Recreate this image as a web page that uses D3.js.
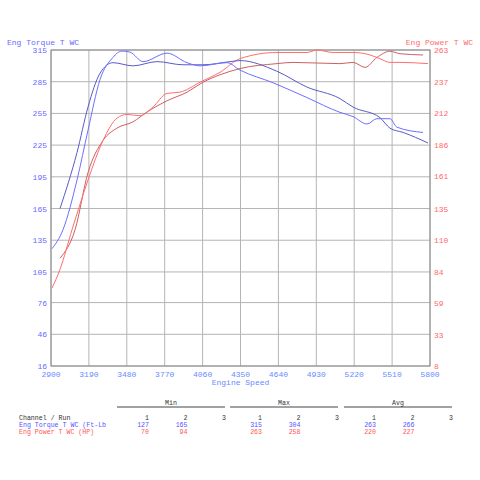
<!DOCTYPE html>
<html>
<head>
<meta charset="utf-8">
<script src="https://cdn.jsdelivr.net/npm/d3@7"></script>
<style>
  body { margin: 0; background: #fff; }
  text { font-family: "Liberation Mono", "DejaVu Sans Mono", monospace; font-size: 8px; }
  .tbl text { font-size: 6.6px; }
</style>
</head>
<body>
<svg id="chart" width="480" height="480"></svg>
<script>
// rpm / value pairs
const torqueRun1 = [[2908,127],[2992,145],[3099,192],[3183,239],[3275,287],[3374,308],[3443,314],[3505,313],[3604,304],[3788,312],[3941,303],[4040,300],[4247,303],[4346,296],[4599,284],[4858,270],[5111,256],[5211,252],[5318,245],[5394,250],[5494,250],[5547,242],[5746,237]];
const torqueRun2 = [[2969,165],[3099,218],[3183,261],[3275,293],[3374,303],[3527,300],[3711,304],[3910,301],[4063,301],[4270,304],[4346,305],[4627,295],[4857,280],[5111,269],[5211,261],[5417,251],[5494,241],[5594,237],[5785,227]];
const powerRun1 = [[2908,71],[2969,86],[3061,118],[3183,158],[3298,190],[3405,208],[3481,211],[3581,210],[3680,217],[3788,228],[3887,229],[4040,237],[4193,245],[4346,256],[4629,261],[4859,261],[4935,263],[5058,261],[5211,261],[5341,259],[5417,256],[5494,253],[5571,253],[5785,252]];
const powerRun2 = [[2969,95],[3084,118],[3183,164],[3298,190],[3405,200],[3527,205],[3635,213],[3788,222],[3941,229],[4063,237],[4193,243],[4346,248],[4629,252],[4752,253],[5111,252],[5211,253],[5303,249],[5394,257],[5494,262],[5571,260],[5746,259]];

const xTicks = [2900,3190,3480,3770,4060,4350,4640,4930,5220,5510,5800];
const torqueTicks = [16,46,76,105,135,165,195,225,255,285,315];
const powerTicks = [8,33,59,84,110,135,161,186,212,237,263];

const statCols = ["Min", "Max", "Avg"];
const runs = ["1", "2", "3"];
const torqueStats = [[127,165,""],[315,304,""],[263,266,""]];
const powerStats = [[70,94,""],[263,258,""],[220,227,""]];

const svg = d3.select("#chart");
const L = 51, R = 430, T = 50, B = 366;

const x = d3.scaleLinear().domain([2900, 5800]).range([L, R]);
const yT = d3.scaleLinear().domain([16, 315]).range([B, T]);
const yP = d3.scaleLinear().domain([8, 263]).range([B, T]);

// grid
svg.append("g").selectAll("line").data(xTicks).join("line")
  .attr("x1", d => x(d)).attr("x2", d => x(d)).attr("y1", T).attr("y2", B)
  .attr("stroke", "#b4b4b4").attr("stroke-width", 1);
svg.append("g").selectAll("line").data(torqueTicks).join("line")
  .attr("x1", L).attr("x2", R).attr("y1", d => yT(d)).attr("y2", d => yT(d))
  .attr("stroke", "#b4b4b4").attr("stroke-width", 1);
svg.append("rect").attr("x", L).attr("y", T).attr("width", R - L).attr("height", B - T)
  .attr("fill", "none").attr("stroke", "#8a8a8a");

// axes labels
svg.append("g").selectAll("text").data(torqueTicks).join("text")
  .attr("x", L - 4).attr("y", d => yT(d) + 3).attr("text-anchor", "end")
  .attr("fill", "#6a6aff").text(d => d);
svg.append("g").selectAll("text").data(powerTicks).join("text")
  .attr("x", R + 4).attr("y", d => yP(d) + 3)
  .attr("fill", "#ff6a6a").text(d => d);
svg.append("g").selectAll("text").data(xTicks).join("text")
  .attr("x", d => x(d)).attr("y", B + 11).attr("text-anchor", "middle")
  .attr("fill", "#6a8aff").text(d => d);
svg.append("text").attr("x", (L + R) / 2).attr("y", B + 19).attr("text-anchor", "middle")
  .attr("fill", "#6a8aff").text("Engine Speed");
svg.append("text").attr("x", 7).attr("y", 45).attr("fill", "#6a6aff").text("Eng Torque T WC");
svg.append("text").attr("x", 473).attr("y", 45).attr("text-anchor", "end").attr("fill", "#ff6a6a").text("Eng Power T WC");

// curves
const lineT = d3.line().x(d => x(d[0])).y(d => yT(d[1])).curve(d3.curveMonotoneX);
const lineP = d3.line().x(d => x(d[0])).y(d => yP(d[1])).curve(d3.curveMonotoneX);
[[powerRun2, lineP, "#cc6060"], [powerRun1, lineP, "#ff6e6e"],
 [torqueRun2, lineT, "#5a5ac8"], [torqueRun1, lineT, "#6e6eff"]].forEach(([d, fn, c]) => {
  svg.append("path").attr("d", fn(d)).attr("fill", "none").attr("stroke", c).attr("stroke-width", 1);
});

// stats table
const tbl = svg.append("g").attr("class", "tbl");
const groupX = [117, 230, 344], groupW = 108, colStep = 38.5;
statCols.forEach((name, i) => {
  tbl.append("line").attr("x1", groupX[i]).attr("x2", groupX[i] + groupW)
    .attr("y1", 407).attr("y2", 407).attr("stroke", "#444");
  tbl.append("text").attr("x", groupX[i] + groupW / 2).attr("y", 405)
    .attr("text-anchor", "middle").attr("fill", "#333").text(name);
  runs.forEach((r, j) => {
    const cx = groupX[i] + 32 + j * colStep;
    tbl.append("text").attr("x", cx).attr("y", 420).attr("text-anchor", "end").attr("fill", "#333").text(r);
    tbl.append("text").attr("x", cx).attr("y", 427).attr("text-anchor", "end").attr("fill", "#5555ff").text(torqueStats[i][j]);
    tbl.append("text").attr("x", cx).attr("y", 434).attr("text-anchor", "end").attr("fill", "#ff5555").text(powerStats[i][j]);
  });
});
tbl.append("text").attr("x", 19).attr("y", 420).attr("fill", "#333").text("Channel / Run");
tbl.append("text").attr("x", 19).attr("y", 427).attr("fill", "#5555ff").text("Eng Torque T WC (Ft-Lb");
tbl.append("text").attr("x", 19).attr("y", 434).attr("fill", "#ff5555").text("Eng Power T WC (HP)");
</script>
</body>
</html>
